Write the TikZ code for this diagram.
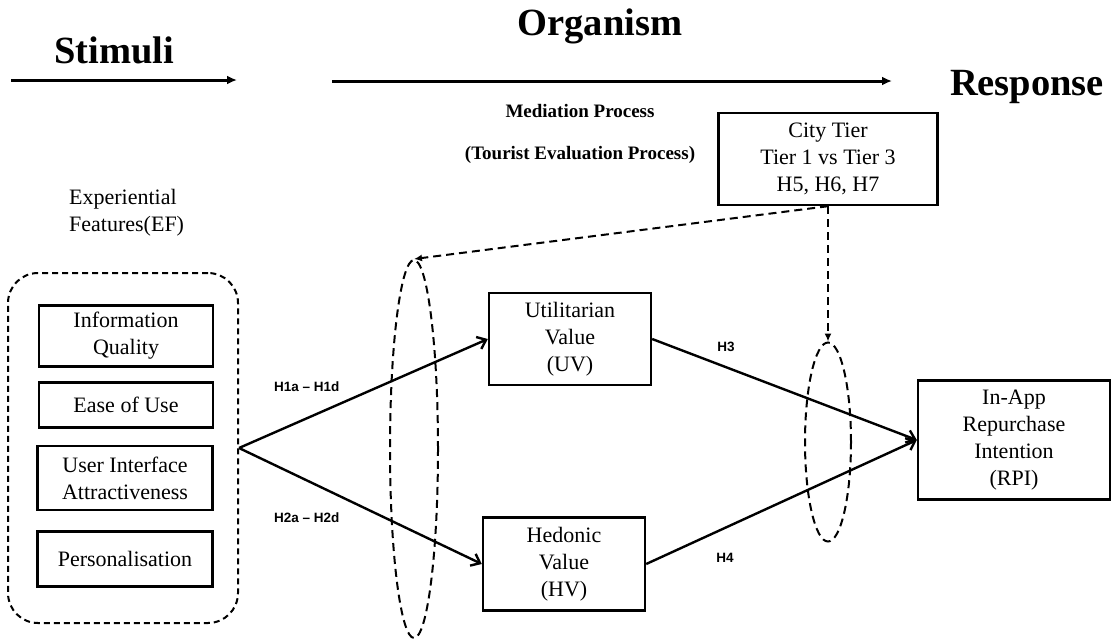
\documentclass[tikz,border=0pt]{standalone}
\usepackage{fontspec}
\setmainfont{Liberation Serif}
\newfontfamily\hfont{Liberation Sans}
\usetikzlibrary{arrows.meta, positioning, shapes.geometric}

\begin{document}
\begin{tikzpicture}[x=1pt, y=-1pt, >={Straight Barb[length=8pt, width=13pt]}, line width=2.4pt, font=\fontsize{22}{27}\selectfont]
	\tikzstyle{box} = [draw=black, rectangle, align=center, inner sep=0pt, line width=2.4pt]
	\tikzstyle{group} = [draw=black, rectangle, rounded corners=30pt, dash pattern=on 6pt off 4pt, line width=2pt, minimum width=230pt, minimum height=350pt]
	\tikzstyle{oval} = [draw=black, ellipse, dash pattern=on 8pt off 5pt, line width=2pt, inner sep=0pt]
	\tikzstyle{title} = [draw=none, font=\fontsize{38.5}{40}\selectfont\bfseries, anchor=base, inner sep=0pt]
	\tikzstyle{sub} = [draw=none, font=\fontsize{19}{20}\selectfont\bfseries, anchor=base, inner sep=0pt]
	\tikzstyle{hyp} = [draw=none, font=\hfont\fontsize{13.5}{14}\selectfont\bfseries, inner sep=0pt]
	\tikzstyle{invis} = [draw=none]

	\useasboundingbox (0, 0) rectangle (1114, 641);

	\node[title]			at (114, 63)		(stim)	{Stimuli};
	\node[title]			at (600, 35)		(org)	{Organism};
	\node[title]			at (1027, 95)		(resp)	{Response};
	\node[sub]			at (580, 117)		(med)	{Mediation Process};
	\node[sub]			at (580, 159)		(tep)	{(Tourist Evaluation Process)};
	\node[invis, align=left, anchor=west, inner sep=0pt]	at (68, 213)	(ef)	{Experiential\\Features(EF)};

	\node[group]			at (123, 448)		(grp)	{};
	\node[box, minimum width=174pt, minimum height=61pt]	at (126, 336)	(iq)	{Information\\Quality};
	\node[box, minimum width=174pt, minimum height=45pt]	at (126, 405)	(eou)	{Ease of Use};
	\node[box, minimum width=175pt, minimum height=64pt]	at (125, 478)	(uia)	{User Interface\\Attractiveness};
	\node[box, minimum width=175pt, minimum height=55pt]	at (125, 559)	(pers)	{Personalisation};

	\node[box, minimum width=162pt, minimum height=92pt]	at (570, 339)	(uv)	{Utilitarian\\Value\\(UV)};
	\node[box, minimum width=162pt, minimum height=93pt]	at (564, 564)	(hv)	{Hedonic\\Value\\(HV)};
	\node[box, minimum width=192pt, minimum height=119pt]	at (1014, 440)	(rpi)	{In-App\\Repurchase\\Intention\\(RPI)};
	\node[box, minimum width=219pt, minimum height=92pt]	at (828, 159)	(city)	{City Tier\\Tier 1 vs Tier 3\\H5, H6, H7};

	\node[oval, minimum width=48pt, minimum height=378pt]	at (414, 449)	(ov1)	{};
	\node[oval, minimum width=46pt, minimum height=199pt]	at (828, 442)	(ov2)	{};

	\node[hyp, anchor=west]		at (273, 387)		(h1)	{H1a – H1d};
	\node[hyp, anchor=west]		at (273, 518)		(h2)	{H2a – H2d};
	\node[hyp]			at (726, 347)		(h3)	{H3};
	\node[hyp]			at (725, 558)		(h4)	{H4};

	\coordinate (s0) at (11, 80);
	\coordinate (s1) at (237, 80);
	\coordinate (o0) at (332, 81);
	\coordinate (o1) at (892, 81);

	\path[-{Latex[length=10pt, width=9pt]}, line width=3pt]
	(s0)	edge	(s1)
	(o0)	edge	(o1);

	\path[->]
	(grp.east)	edge	(uv.west)
	(grp.east)	edge	(hv.west)
	(uv.east)	edge	(rpi.west)
	(hv.east)	edge	(rpi.west);

	\path[-{Latex[length=8pt, width=7pt]}, dash pattern=on 8pt off 5pt, line width=2pt]
	(city.south)	edge	(ov1.north)
	(city.south)	edge	(ov2.north);
\end{tikzpicture}
\end{document}
